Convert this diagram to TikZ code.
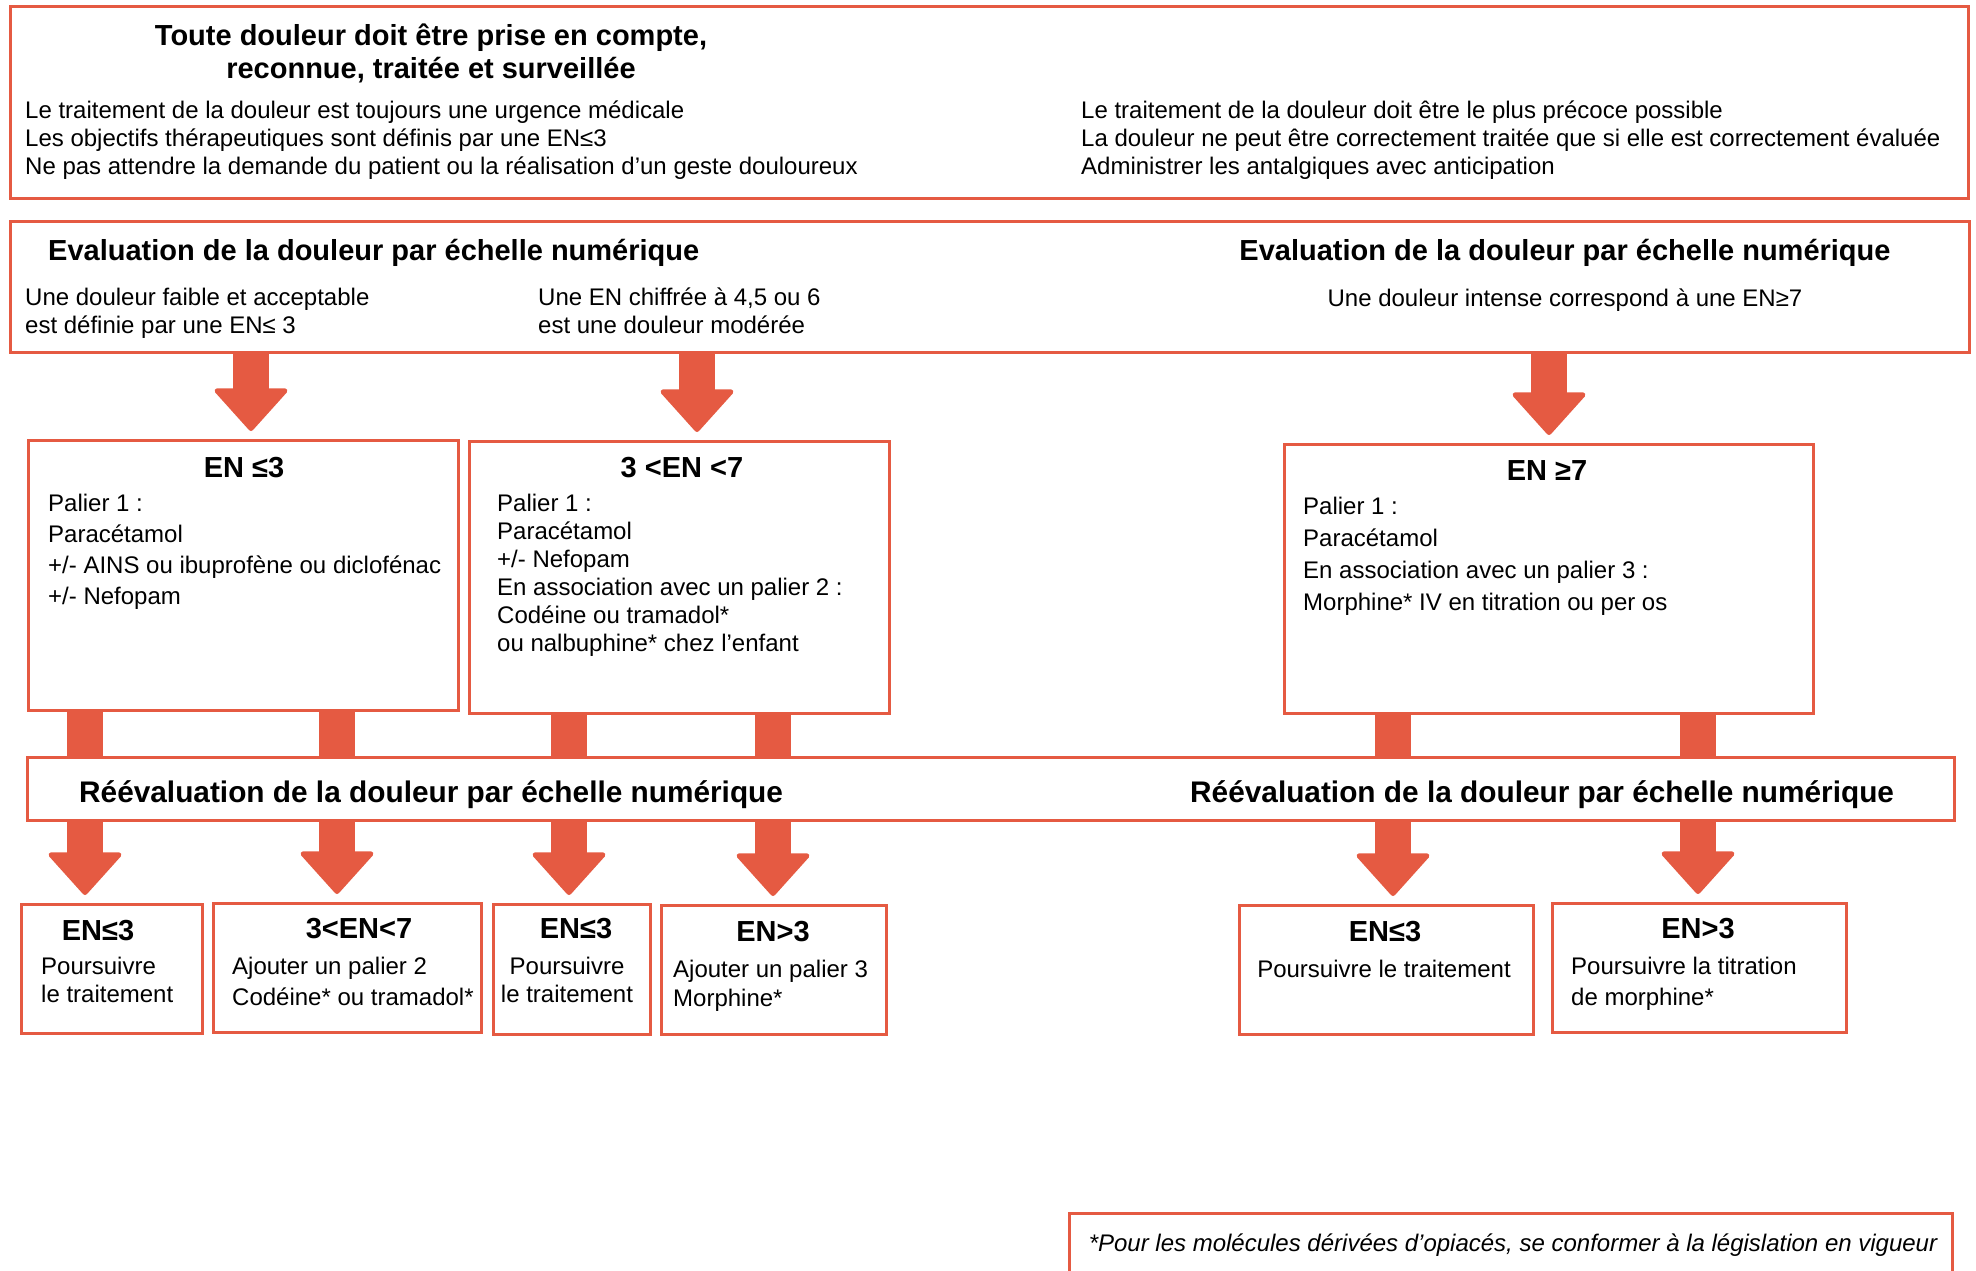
\documentclass[tikz,border=0pt]{standalone}
\usepackage{fontspec}
\setmainfont{Liberation Sans}
\usetikzlibrary{arrows.meta, positioning}
\definecolor{rouge}{HTML}{E55A42}
\tikzset{
        x=1pt, y=-1pt, % one unit is one pixel of the layout
        cadre/.style={draw=rouge, line width=3pt, inner sep=0pt, anchor=north west}, % framed boxes
        titre/.style={font=\fontsize{29}{33}\selectfont\bfseries, inner sep=0pt, anchor=north}, % bold headings
        texte/.style={font=\fontsize{24}{28}\selectfont, inner sep=0pt, anchor=north west, align=left}, % plain text
        fleche/.style={draw=rouge, line width=36pt, -{Triangle[width=78pt, length=44pt, line width=5pt, round]}, shorten >=8pt}, % block arrows
        barre/.style={draw=rouge, line width=36pt}, % straight links
    }
\begin{document}
\begin{tikzpicture}
    \useasboundingbox (0,0) rectangle (1976,1271);
    \node[cadre, minimum width=1958pt, minimum height=192pt] (principes) at (9,5) {};
    \node[titre, align=center] (devise) at (431,24) {Toute douleur doit être prise en compte,\\reconnue, traitée et surveillée};
    \node[texte] (regles) at (25,101) {Le traitement de la douleur est toujours une urgence médicale\\Les objectifs thérapeutiques sont définis par une EN≤3\\Ne pas attendre la demande du patient ou la réalisation d’un geste douloureux};
    \node[texte] (reglesdroite) at (1081,101) {Le traitement de la douleur doit être le plus précoce possible\\La douleur ne peut être correctement traitée que si elle est correctement évaluée\\Administrer les antalgiques avec anticipation};

    \node[cadre, minimum width=1959pt, minimum height=131pt] (evaluation) at (9,220) {};
    \node[titre, anchor=north west] (evalgauche) at (48,239) {Evaluation de la douleur par échelle numérique};
    \node[titre] (evaldroite) at (1565,239) {Evaluation de la douleur par échelle numérique};
    \node[texte] (faible) at (25,288) {Une douleur faible et acceptable\\est définie par une EN≤ 3};
    \node[texte] (modere) at (538,288) {Une EN chiffrée à 4,5 ou 6\\est une douleur modérée};
    \node[texte, anchor=north] (intense) at (1565,289) {Une douleur intense correspond à une EN≥7};

    \node[cadre, minimum width=430pt, minimum height=270pt] (palierA) at (27,439) {};
    \node[titre] (titreA) at (244,457) {EN ≤3};
    \node[texte, font=\fontsize{24}{31}\selectfont] (corpsA) at (48,494) {Palier 1 :\\Paracétamol\\+/- AINS ou ibuprofène ou diclofénac\\+/- Nefopam};
    \node[cadre, minimum width=420pt, minimum height=272pt] (palierB) at (468,440) {};
    \node[titre] (titreB) at (682,457) {3 <EN <7};
    \node[texte] (corpsB) at (497,494) {Palier 1 :\\Paracétamol\\+/- Nefopam\\En association avec un palier 2 :\\Codéine ou tramadol*\\ou nalbuphine* chez l’enfant};
    \node[cadre, minimum width=529pt, minimum height=269pt] (palierC) at (1283,443) {};
    \node[titre] (titreC) at (1547,460) {EN ≥7};
    \node[texte, font=\fontsize{24}{32}\selectfont] (corpsC) at (1303,497) {Palier 1 :\\Paracétamol\\En association avec un palier 3 :\\Morphine* IV en titration ou per os};

    \node[cadre, minimum width=1927pt, minimum height=63pt] (reevaluation) at (26,756) {};
    \node[titre, anchor=north west, font=\fontsize{29.8}{33}\selectfont\bfseries] (reevalgauche) at (79,780) {Réévaluation de la douleur par échelle numérique};
    \node[titre, anchor=north west, font=\fontsize{29.8}{33}\selectfont\bfseries] (reevaldroite) at (1190,780) {Réévaluation de la douleur par échelle numérique};

    \node[cadre, minimum width=181pt, minimum height=129pt] (resA) at (20,903) {};
    \node[titre] (resAtitre) at (98,920) {EN≤3};
    \node[texte] (resAtexte) at (41,957) {Poursuivre\\le traitement};
    \node[cadre, minimum width=268pt, minimum height=129pt] (resB) at (212,902) {};
    \node[titre] (resBtitre) at (359,918) {3<EN<7};
    \node[texte, font=\fontsize{24}{31}\selectfont] (resBtexte) at (232,957) {Ajouter un palier 2\\Codéine* ou tramadol*};
    \node[cadre, minimum width=157pt, minimum height=130pt] (resC) at (492,903) {};
    \node[titre] (resCtitre) at (576,918) {EN≤3};
    \node[texte, anchor=north, align=center] (resCtexte) at (567,957) {Poursuivre\\le traitement};
    \node[cadre, minimum width=225pt, minimum height=129pt] (resD) at (660,904) {};
    \node[titre] (resDtitre) at (773,921) {EN>3};
    \node[texte, font=\fontsize{24}{29}\selectfont] (resDtexte) at (673,960) {Ajouter un palier 3\\Morphine*};
    \node[cadre, minimum width=294pt, minimum height=129pt] (resE) at (1238,904) {};
    \node[titre] (resEtitre) at (1385,921) {EN≤3};
    \node[texte, anchor=north] (resEtexte) at (1384,960) {Poursuivre le traitement};
    \node[cadre, minimum width=294pt, minimum height=129pt] (resF) at (1551,902) {};
    \node[titre] (resFtitre) at (1698,918) {EN>3};
    \node[texte, font=\fontsize{24}{31}\selectfont] (resFtexte) at (1571,957) {Poursuivre la titration\\de morphine*};

    \node[cadre, minimum width=883pt, minimum height=100pt] (note) at (1068,1212) {};
    \node[texte, anchor=north, font=\fontsize{24}{28}\selectfont\itshape] (notetexte) at (1513,1234) {*Pour les molécules dérivées d’opiacés, se conformer à la législation en vigueur};

    \coordinate (fA) at (251,0);
    \coordinate (fB) at (697,0);
    \coordinate (fC) at (1549,0);
    \coordinate (bA1) at (85,0);
    \coordinate (bA2) at (337,0);
    \coordinate (bB1) at (569,0);
    \coordinate (bB2) at (773,0);
    \coordinate (bC1) at (1393,0);
    \coordinate (bC2) at (1698,0);
    \path
      (evaluation.south -| fA) edge[fleche] (palierA.north -| fA)
      (evaluation.south -| fB) edge[fleche] (palierB.north -| fB)
      (evaluation.south -| fC) edge[fleche] (palierC.north -| fC)
      (palierA.south -| bA1) edge[barre] (reevaluation.north -| bA1)
      (palierA.south -| bA2) edge[barre] (reevaluation.north -| bA2)
      (palierB.south -| bB1) edge[barre] (reevaluation.north -| bB1)
      (palierB.south -| bB2) edge[barre] (reevaluation.north -| bB2)
      (palierC.south -| bC1) edge[barre] (reevaluation.north -| bC1)
      (palierC.south -| bC2) edge[barre] (reevaluation.north -| bC2)
      (reevaluation.south -| bA1) edge[fleche] (resA.north -| bA1)
      (reevaluation.south -| bA2) edge[fleche] (resB.north -| bA2)
      (reevaluation.south -| bB1) edge[fleche] (resC.north -| bB1)
      (reevaluation.south -| bB2) edge[fleche] (resD.north -| bB2)
      (reevaluation.south -| bC1) edge[fleche] (resE.north -| bC1)
      (reevaluation.south -| bC2) edge[fleche] (resF.north -| bC2);
\end{tikzpicture}
\end{document}
